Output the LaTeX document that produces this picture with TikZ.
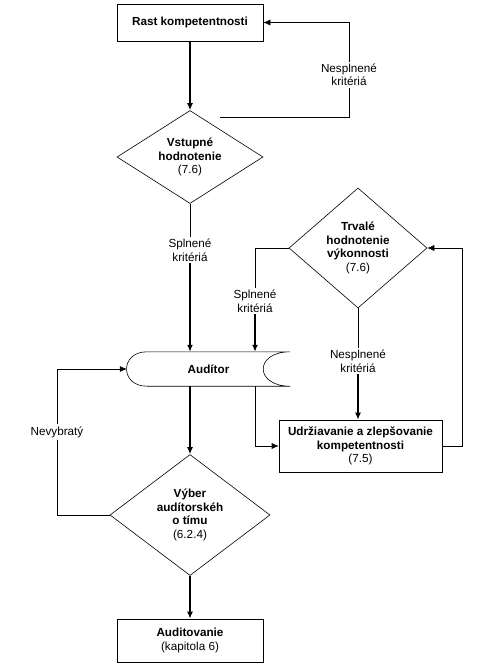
\documentclass[tikz,border=0pt]{standalone}
\usepackage{fontspec}
\setmainfont{Liberation Sans}
\usetikzlibrary{shapes.geometric,arrows.meta}

\begin{document}
\begin{tikzpicture}[x=1pt,y=-1pt,
    font=\fontsize{11.7}{13.5}\selectfont,
    box/.style={draw,line width=0.6pt,align=center,inner sep=0pt},
    test/.style={diamond,draw,line width=0.6pt,align=center,inner sep=0pt},
    lab/.style={fill=white,align=center,inner sep=2pt},
    flow/.style={line width=1.4pt,-{Latex[length=7pt,width=6pt]}},
    back/.style={line width=0.6pt,-{Latex[length=7pt,width=6pt]}},
    plain/.style={line width=0.6pt}]
    \useasboundingbox (0,0) rectangle (491,668);

    % main column

    \node[box,minimum width=146pt,minimum height=37pt] (rast) at (190,22.5) {\textbf{Rast kompetentnosti}};
    \node[test,minimum width=146pt,minimum height=93pt,aspect=1.6] (vstup) at (190,157) {\textbf{Vstupné}\\\textbf{hodnotenie}\\(7.6)};
    \node[minimum width=163pt,minimum height=34pt,inner sep=0pt] (aud) at (208.5,369) {\textbf{Audítor}};
    \node[test,minimum width=160pt,minimum height=121pt,aspect=1.3] (vyb) at (190,515) {\textbf{Výber}\\\textbf{audítorskéh}\\\textbf{o tímu}\\(6.2.4)};
    \node[box,minimum width=146pt,minimum height=43pt] (audit) at (190,640.5) {\textbf{Auditovanie}\\(kapitola 6)};

    % right column

    \node[test,minimum width=138pt,minimum height=120pt,aspect=1.15] (trv) at (358,248) {\textbf{Trvalé}\\\textbf{hodnotenie}\\\textbf{výkonnosti}\\(7.6)};
    \node[box,minimum width=163pt,minimum height=52pt] (ud) at (360.5,446) {\textbf{Udržiavanie a zlepšovanie}\\\textbf{kompetentnosti}\\(7.5)};

    % labels

    \node[lab] (lab0) at (349,75) {Nesplnené\\kritériá};
    \node[lab] (lab1) at (190,250) {Splnené\\kritériá};
    \node[lab] (lab2) at (255,301) {Splnené\\kritériá};
    \node[lab] (lab3) at (57,432) {Nevybratý};
    \node[lab] (lab4) at (358,361) {Nesplnené\\kritériá};
    \coordinate (c0) at (220,117);
    \coordinate (rloop) at (462,248);

    % auditor outline

    \draw[plain] ([xshift=20pt]aud.north west) -- (aud.north east)
        .. controls ([xshift=-36pt]aud.north east) and ([xshift=-36pt]aud.south east) .. (aud.south east)
        -- ([xshift=20pt]aud.south west)
        .. controls ([xshift=-7pt]aud.south west) and ([xshift=-7pt]aud.north west) .. cycle;

    % connectors

    \draw[flow] (rast) -- (vstup);
    \draw[plain] (c0) -| (lab0);
    \draw[back] (lab0) |- (rast);
    \draw[plain] (vstup) -- (lab1);
    \draw[flow] (lab1) -- (lab1 |- aud.north);
    \draw[plain] (trv) -| (lab2);
    \draw[flow] (lab2) -- (lab2 |- aud.north);
    \draw[plain] (trv) -- (lab4);
    \draw[flow] (lab4) -- (lab4 |- ud.north);
    \draw[back] (lab2 |- aud.south) |- (ud);
    \draw[back] (ud) -| (rloop) -- (trv);
    \draw[flow] (vstup |- aud.south) -- (vyb);
    \draw[plain] (vyb) -| (lab3);
    \draw[back] (lab3) |- (aud.west);
    \draw[flow] (vyb) -- (audit);

\end{tikzpicture}
\end{document}
